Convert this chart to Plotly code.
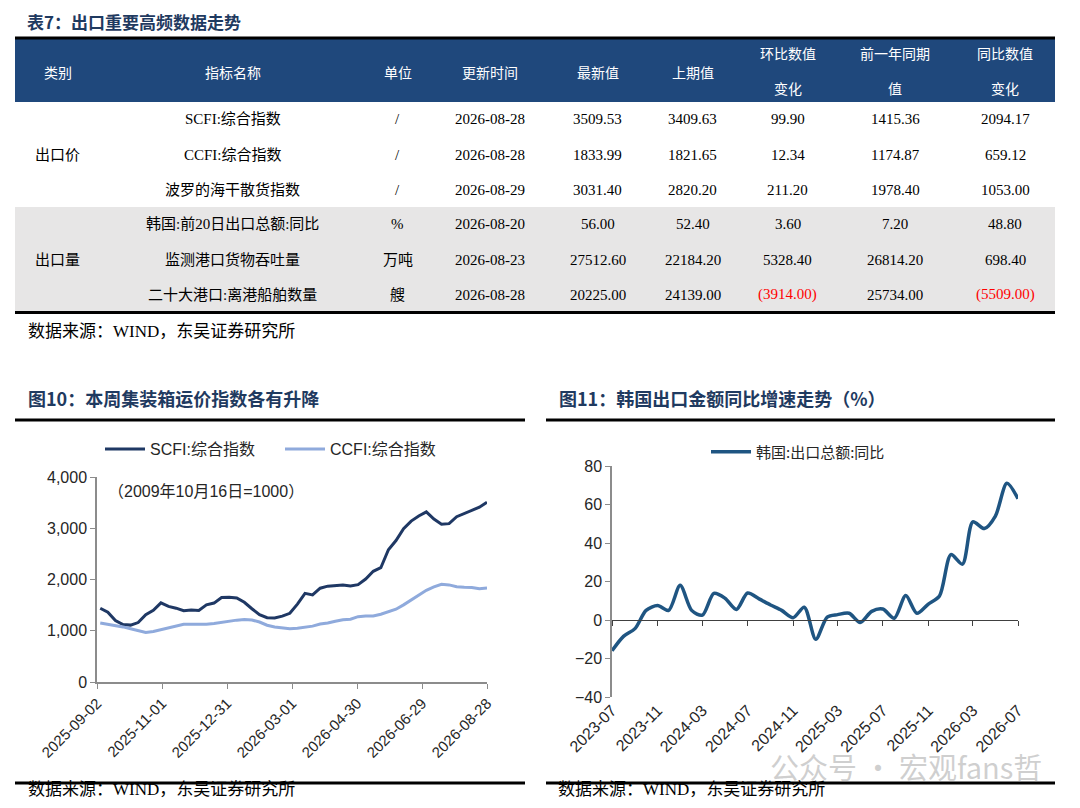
import plotly.graph_objects as go
import pandas as pd

W, H = 1080, 808
OFF = 8  # page body margin of the html page
def X(px): return (px - OFF) / W
def Y(py): return 1 - (py - OFF) / H

# ---------------- table data ----------------
tbl_headers = ["类别", "指标名称", "单位", "更新时间", "最新值", "上期值",
               "环比数值<br>变化", "前一年同期<br>值", "同比数值<br>变化"]
tbl_category = ["", "出口价", "", "", "出口量", ""]
tbl_name = ["SCFI:综合指数", "CCFI:综合指数", "波罗的海干散货指数",
            "韩国:前20日出口总额:同比", "监测港口货物吞吐量", "二十大港口:离港船舶数量"]
tbl_unit = ["/", "/", "/", "%", "万吨", "艘"]
tbl_date = ["2026-08-28", "2026-08-28", "2026-08-29", "2026-08-20", "2026-08-23", "2026-08-28"]
tbl_latest = [3509.53, 1833.99, 3031.40, 56.00, 27512.60, 20225.00]
tbl_prev = [3409.63, 1821.65, 2820.20, 52.40, 22184.20, 24139.00]
tbl_mom = [99.90, 12.34, 211.20, 3.60, 5328.40, -3914.00]
tbl_lastyear = [1415.36, 1174.87, 1978.40, 7.20, 26814.20, 25734.00]
tbl_yoy = [2094.17, 659.12, 1053.00, 48.80, 698.40, -5509.00]

# ---------------- chart 10 data (weekly) ----------------
scfi = [1440, 1360, 1200, 1120, 1110, 1160, 1315, 1400, 1545, 1475,
        1440, 1390, 1405, 1395, 1505, 1540, 1650, 1655, 1640, 1555,
        1430, 1315, 1255, 1250, 1285, 1340, 1520, 1730, 1700, 1830,
        1870, 1888, 1892, 1875, 1900, 2010, 2160, 2230, 2580, 2760,
        2990, 3140, 3240, 3320, 3180, 3080, 3090, 3226, 3290, 3360,
        3409.63, 3509.53]
ccfi = [1150, 1125, 1110, 1075, 1040, 1000, 965, 985, 1020, 1060,
        1100, 1128, 1128, 1125, 1126, 1143, 1168, 1188, 1207, 1220,
        1210, 1170, 1108, 1075, 1055, 1040, 1050, 1065, 1090, 1132,
        1150, 1185, 1215, 1225, 1275, 1290, 1288, 1322, 1375, 1420,
        1505, 1600, 1700, 1790, 1855, 1905, 1895, 1860, 1847, 1845,
        1821.65, 1833.99]
weeks = pd.date_range(end="2026-08-28", periods=len(scfi), freq="7D")

# ---------------- chart 11 data (monthly) ----------------
korea_yoy = [-16, -8.5, -4.5, 5, 7.5, 5, 18, 5, 2.5, 13.8,
             11.3, 5.5, 14, 11, 7.8, 5, 1.2, 6.6, -10, 1.5,
             2.8, 3.5, -1.3, 4.5, 5.7, 0.9, 12.7, 3.5, 8.3, 12.5,
             34, 29, 51, 47.5, 54, 71, 63]
months = pd.date_range(start="2023-07-01", periods=len(korea_yoy), freq="MS")

NAVY = "#1F487C"
GRAY_ROW = "#E7E6E6"
TITLE_C = "#1F3A60"
SERIF = "Liberation Serif, Noto Sans CJK SC"
SANS = "Liberation Sans, Arial, Noto Sans CJK SC"
CJK = "Noto Sans CJK SC"

def fmt(v):
    return f"({abs(v):.2f})" if v < 0 else f"{v:.2f}"

fig = go.Figure()

# chart 10
fig.add_trace(go.Scatter(x=weeks, y=scfi, mode="lines", name="SCFI:综合指数",
                         line=dict(color="#1F3864", width=3), xaxis="x", yaxis="y", legend="legend"))
fig.add_trace(go.Scatter(x=weeks, y=ccfi, mode="lines", name="CCFI:综合指数",
                         line=dict(color="#8FAADC", width=3), xaxis="x", yaxis="y", legend="legend"))
# chart 11
fig.add_trace(go.Scatter(x=months, y=korea_yoy, mode="lines", name="韩国:出口总额:同比",
                         line=dict(color="#1F5582", width=3.5, shape="spline", smoothing=0.8),
                         xaxis="x2", yaxis="y2", legend="legend2"))
fig.add_trace(go.Scatter(x=[months[0]], y=[None], mode="lines", showlegend=False,
                         xaxis="x3", yaxis="y2", hoverinfo="skip"))

axis_gray = "#8C8C8C"
tickfont = dict(family=SANS, size=16, color="#262626")

fig.update_layout(
    width=W, height=H, margin=dict(l=0, r=0, t=0, b=0, autoexpand=False),
    paper_bgcolor="white", plot_bgcolor="rgba(0,0,0,0)",
    xaxis=dict(domain=[X(97), X(487)], type="date", automargin=False,
               range=["2025-09-02", "2026-08-28"], tick0="2025-09-02", dtick=60 * 86400000,
               tickformat="%Y-%m-%d", tickangle=-45, ticks="outside", ticklen=5,
               tickcolor=axis_gray, showline=True, linecolor=axis_gray, linewidth=1.5,
               showgrid=False, tickfont=dict(family=SANS, size=15, color="#262626"), anchor="y"),
    yaxis=dict(domain=[Y(682), Y(477)], range=[0, 4000], dtick=1000, tickformat=",",
               automargin=False,
               ticks="outside", ticklen=5, tickcolor=axis_gray, showline=True,
               linecolor=axis_gray, linewidth=1.5, showgrid=False, zeroline=False,
               tickfont=tickfont, anchor="x"),
    xaxis2=dict(domain=[X(612), X(1018)], type="date", automargin=False,
                range=["2023-07-01", "2026-07-01"], tick0="2023-07-01", dtick="M4",
                tickformat="%Y-%m", tickangle=-45, ticks="", showline=False, showgrid=False,
                tickfont=dict(family=SANS, size=16, color="#262626"), anchor="y2"),
    xaxis3=dict(domain=[X(612), X(1018)], type="date", overlaying="x2", anchor="free",
                automargin=False,
                position=Y(620), range=["2023-07-01", "2026-07-01"], tick0="2023-07-01",
                dtick="M4", ticks="outside", ticklen=5, tickcolor="#404040",
                showticklabels=False, showline=True, linecolor="#404040", linewidth=1.2,
                showgrid=False),
    yaxis2=dict(domain=[Y(697), Y(466)], range=[-40, 80], dtick=20, ticks="outside",
                automargin=False,
                ticklen=5, tickcolor=axis_gray, showline=True, linecolor=axis_gray,
                linewidth=1.5, showgrid=False, zeroline=False, tickfont=tickfont, anchor="x2"),
    legend=dict(orientation="h", x=X(100), y=Y(449), xanchor="left", yanchor="middle",
                font=dict(family=SANS, size=16, color="#262626"), bgcolor="rgba(0,0,0,0)",
                itemwidth=40, entrywidth=125, entrywidthmode="pixels", tracegroupgap=0),
    legend2=dict(orientation="h", x=X(706), y=Y(452), xanchor="left", yanchor="middle",
                 font=dict(family=CJK, size=15, color="#262626"), bgcolor="rgba(0,0,0,0)",
                 itemwidth=40),
    showlegend=True,
)

# ---------------- table (shapes + text from the arrays) ----------------
col_edges = [15, 100, 365, 430, 550, 645, 740, 835, 955, 1055]
col_centers = [(a + b) / 2 for a, b in zip(col_edges[:-1], col_edges[1:])]
header_top, header_bot = 39, 102
row_h = 35
n_rows = len(tbl_name)

shapes = []
shapes.append(dict(type="rect", xref="paper", yref="paper", layer="below",
                   x0=X(15), x1=X(1055), y0=Y(header_bot), y1=Y(header_top),
                   fillcolor=NAVY, line=dict(width=0)))
shapes.append(dict(type="rect", xref="paper", yref="paper", layer="below",
                   x0=X(15), x1=X(1055), y0=Y(header_bot + row_h * n_rows),
                   y1=Y(header_bot + row_h * 3), fillcolor=GRAY_ROW, line=dict(width=0)))

def hline(x0, x1, py, w=3):
    shapes.append(dict(type="line", xref="paper", yref="paper", x0=X(x0), x1=X(x1),
                       y0=Y(py), y1=Y(py), line=dict(color="black", width=w)))
hline(15, 1055, 38)
hline(15, 1055, 312.5)
hline(15, 525, 420)
hline(546, 1055, 420)
hline(15, 525, 783)
hline(546, 1055, 783)
fig.update_layout(shapes=shapes)

ann = []
def text(px, py, s, size, color="black", family=CJK, bold=False, xanchor="left"):
    ann.append(dict(xref="paper", yref="paper", x=X(px), y=Y(py),
                    text=f"<b>{s}</b>" if bold else s,
                    showarrow=False, xanchor=xanchor, yanchor="middle",
                    font=dict(family=family, size=size, color=color)))

# header
hmid = (header_top + header_bot) / 2
for cx, h in zip(col_centers, tbl_headers):
    lines = h.split("<br>")
    if len(lines) == 1:
        text(cx, hmid + 1, lines[0], 14, "white", CJK, xanchor="center")
    else:
        text(cx, hmid - 17, lines[0], 14, "white", CJK, xanchor="center")
        text(cx, hmid + 17, lines[1], 14, "white", CJK, xanchor="center")

# body
cols = [tbl_category, tbl_name, tbl_unit, tbl_date,
        [fmt(v) for v in tbl_latest], [fmt(v) for v in tbl_prev],
        [fmt(v) for v in tbl_mom], [fmt(v) for v in tbl_lastyear],
        [fmt(v) for v in tbl_yoy]]
for ci, (cx, col) in enumerate(zip(col_centers, cols)):
    for ri, s in enumerate(col):
        if not s:
            continue
        cy = header_bot + row_h * ri + row_h / 2
        colr = "#FF0000" if s.startswith("(") else "black"
        text(cx, cy, s, 15, colr, SERIF, xanchor="center")

text(25, 21, "表7：出口重要高频数据走势", 17, TITLE_C, bold=True)
text(26, 331, "数据来源：WIND，东吴证券研究所", 17, "black", family=SERIF)
text(26, 398, "图10：本周集装箱运价指数各有升降", 18, TITLE_C, bold=True)
text(557, 398, "图11：韩国出口金额同比增速走势（%）", 18, TITLE_C, bold=True)
text(26, 789, "数据来源：WIND，东吴证券研究所", 17, "black", family=SERIF)
text(556, 789, "数据来源：WIND，东吴证券研究所", 17, "black", family=SERIF)
text(106, 491, "（2009年10月16日=1000）", 16, "#262626", family=SANS)
text(768, 766, "公众号 · 宏观fans哲", 29, "rgba(160,160,160,0.5)", family=CJK)
fig.update_layout(annotations=ann)

fig.write_html("out.html")
